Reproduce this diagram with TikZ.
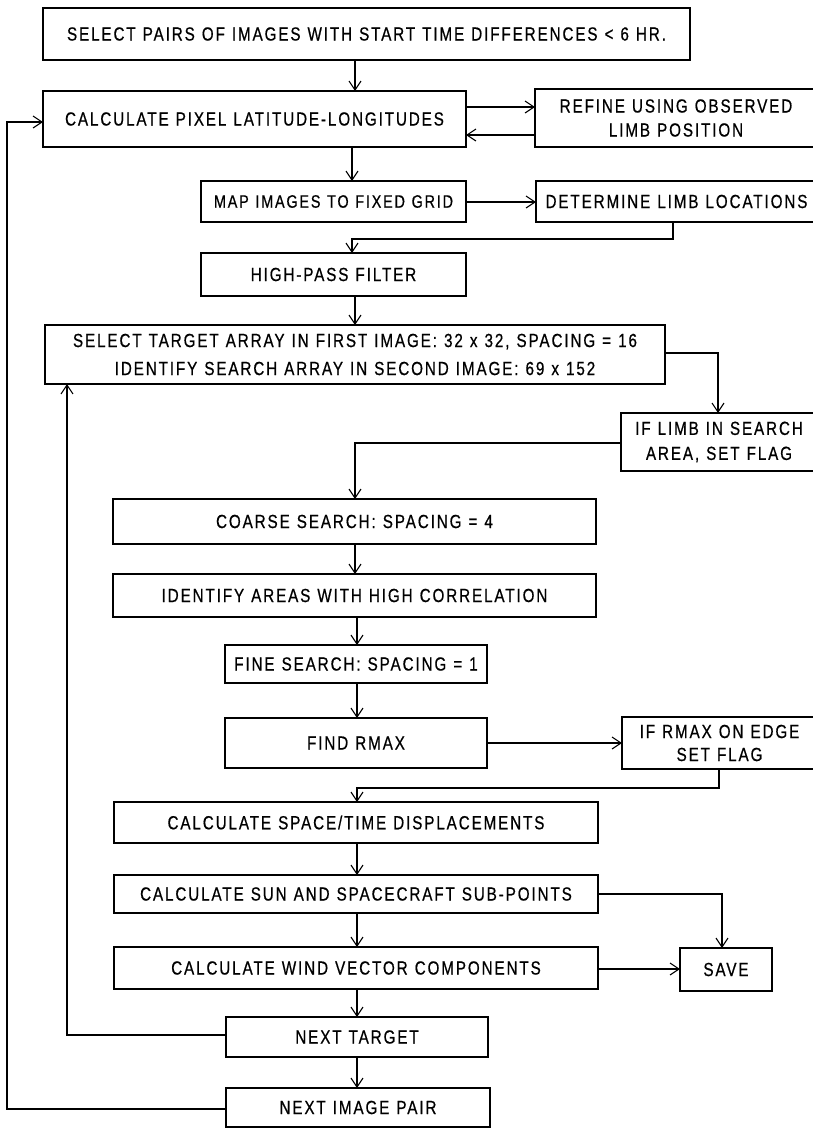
\documentclass[tikz,border=0pt]{standalone}
\usepackage{fontspec}
\setmainfont{Liberation Sans}[FakeStretch=0.8,LetterSpace=10,FakeBold=0.6,WordSpace=1.15]
\usetikzlibrary{arrows.meta}
\begin{document}
\begin{tikzpicture}[x=1pt,y=-1pt,
  box/.style={draw,line width=1.7pt,inner sep=0pt,outer sep=0pt,anchor=north west,
    align=center,font=\fontsize{19}{24}\selectfont},
  conn/.style={line width=1.1pt},
  arr/.style={conn,-{Straight Barb[length=9pt,width=12pt,line width=1.1pt]}}]
\useasboundingbox (0,0) rectangle (812,1128);
\fill[white] (0,0) rectangle (812,1128);
% boxes
\node[box,minimum width=647,minimum height=52] (b1) at (43,8) {SELECT PAIRS OF IMAGES WITH START TIME DIFFERENCES < 6 HR.};
\node[box,minimum width=423,minimum height=56] (b2) at (43,91) {CALCULATE PIXEL LATITUDE-LONGITUDES};
\node[box,minimum width=282,minimum height=58] (ref) at (535,89) {REFINE USING OBSERVED\\LIMB POSITION};
\node[box,minimum width=265,minimum height=41,font=\fontsize{18}{24}\selectfont] (map) at (201,181) {MAP IMAGES TO FIXED GRID};
\node[box,minimum width=281,minimum height=41] (det) at (536,181) {DETERMINE LIMB LOCATIONS};
\node[box,minimum width=265,minimum height=43] (hp) at (201,253) {HIGH-PASS FILTER};
\node[box,minimum width=620,minimum height=59,font=\fontsize{19}{28}\selectfont] (sel) at (45,325) {SELECT TARGET ARRAY IN FIRST IMAGE: 32 x 32, SPACING = 16\\IDENTIFY SEARCH ARRAY IN SECOND IMAGE: 69 x 152};
\node[box,minimum width=196,minimum height=58,font=\fontsize{19}{25}\selectfont] (limb) at (621,413) {IF LIMB IN SEARCH\\AREA, SET FLAG};
\node[box,minimum width=483,minimum height=45] (coarse) at (113,499) {COARSE SEARCH: SPACING = 4};
\node[box,minimum width=483,minimum height=43] (ident) at (113,574) {IDENTIFY AREAS WITH HIGH CORRELATION};
\node[box,minimum width=262,minimum height=38] (fine) at (225,645) {FINE SEARCH: SPACING = 1};
\node[box,minimum width=262,minimum height=50] (rmax) at (225,718) {FIND RMAX};
\node[box,minimum width=195,minimum height=52,font=\fontsize{19}{23}\selectfont] (edge) at (622,717) {IF RMAX ON EDGE\\SET FLAG};
\node[box,minimum width=484,minimum height=41] (space) at (114,802) {CALCULATE SPACE/TIME DISPLACEMENTS};
\node[box,minimum width=484,minimum height=38] (sun) at (114,875) {CALCULATE SUN AND SPACECRAFT SUB-POINTS};
\node[box,minimum width=484,minimum height=42] (wind) at (114,947) {CALCULATE WIND VECTOR COMPONENTS};
\node[box,minimum width=92,minimum height=43] (save) at (680,948) {SAVE};
\node[box,minimum width=262,minimum height=40] (nt) at (226,1017) {NEXT TARGET};
\node[box,minimum width=264,minimum height=39] (np) at (226,1088) {NEXT IMAGE PAIR};
% routing coordinates
\coordinate (xa) at (355,0);
\coordinate (xb) at (352,0);
\coordinate (xc) at (357,0);
\coordinate (ya) at (0,107);
\coordinate (yb) at (0,135);
\coordinate (yc) at (0,202);
\coordinate (d1) at (673,239);
\coordinate (d2) at (352,239);
\coordinate (s1) at (718,353);
\coordinate (l1) at (355,443);
\coordinate (e1) at (719,788);
\coordinate (e2) at (357,788);
\coordinate (u1) at (722,894);
\coordinate (yw) at (0,969);
\coordinate (t1) at (67,1035);
\coordinate (p1) at (7,1109);
\coordinate (p2) at (7,122);
% connectors
\draw[arr] (b1.south -| xa) -- (b2.north -| xa);
\draw[arr] (b2.east |- ya) -- (ref.west |- ya);
\draw[arr] (ref.west |- yb) -- (b2.east |- yb);
\draw[arr] (b2.south -| xb) -- (map.north -| xb);
\draw[arr] (map.east |- yc) -- (det.west |- yc);
\draw[arr] (det.south -| d1) -- (d1) -- (d2) -- (hp.north -| d2);
\draw[arr] (hp.south -| xa) -- (sel.north -| xa);
\draw[arr] (sel.east |- s1) -- (s1) -- (limb.north -| s1);
\draw[arr] (limb.west |- l1) -- (l1) -- (coarse.north -| l1);
\draw[arr] (coarse.south -| xa) -- (ident.north -| xa);
\draw[arr] (ident.south -| xc) -- (fine.north -| xc);
\draw[arr] (fine.south -| xc) -- (rmax.north -| xc);
\draw[arr] (rmax.east |- edge.west) -- (edge.west);
\draw[arr] (edge.south -| e1) -- (e1) -- (e2) -- (space.north -| e2);
\draw[arr] (space.south -| xc) -- (sun.north -| xc);
\draw[arr] (sun.east |- u1) -- (u1) -- (save.north -| u1);
\draw[arr] (sun.south -| xc) -- (wind.north -| xc);
\draw[arr] (wind.east |- yw) -- (save.west |- yw);
\draw[arr] (wind.south -| xc) -- (nt.north -| xc);
\draw[arr] (nt.south -| xc) -- (np.north -| xc);
\draw[arr] (nt.west |- t1) -- (t1) -- (sel.south -| t1);
\draw[arr] (np.west |- p1) -- (p1) -- (p2) -- (b2.west |- p2);
\end{tikzpicture}
\end{document}
